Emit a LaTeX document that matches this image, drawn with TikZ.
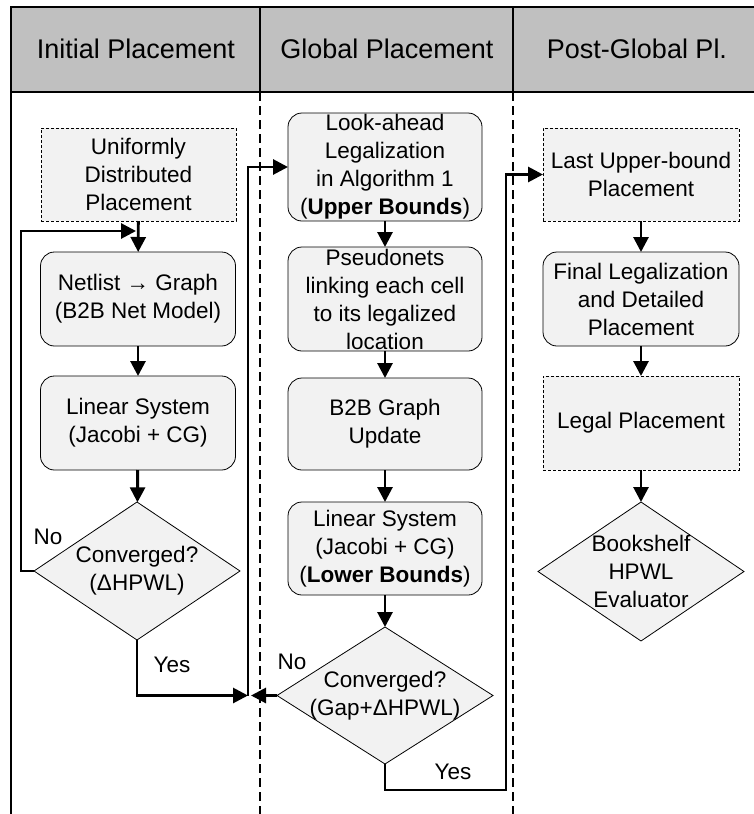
\documentclass[tikz,border=0pt]{standalone}
\usepackage{fontspec}
\setmainfont{Liberation Sans}
\usetikzlibrary{shapes.geometric,arrows.meta}
\definecolor{hdr}{HTML}{C0C0C0}
\definecolor{bx}{HTML}{F2F2F2}
\newcommand{\zw}[1]{\makebox[0pt]{\parbox{240pt}{\centering #1}}}
\begin{document}
\begin{tikzpicture}[x=1pt,y=-1pt,
  base/.style={font=\fontsize{22.5pt}{28pt}\selectfont, align=center, inner sep=0pt, outer sep=0pt, fill=bx, draw=black, line width=0.8pt},
  rbox/.style={base, rectangle, rounded corners=14pt, minimum width=195pt},
  dbox/.style={base, rectangle, dash pattern=on 3pt off 2pt, minimum width=195pt},
  dec/.style={base, diamond, minimum width=206pt, minimum height=138pt},
  flow/.style={line width=2.9pt, -{Triangle[length=15pt,width=15pt]}},
  lbl/.style={font=\fontsize{22.5pt}{28pt}\selectfont, inner sep=0pt},
  hdrtxt/.style={font=\fontsize{27pt}{32pt}\selectfont, inner sep=0pt, anchor=base},
  lane/.style={line width=1.4pt, dash pattern=on 9pt off 5pt},
]
\useasboundingbox (0,0) rectangle (754,814);
% header
\fill[hdr] (11,7) rectangle (754,92);
\draw[line width=2.5pt] (754,7) -- (11,7) -- (11,814);
\draw[line width=2pt] (11,92) -- (754,92);
\draw[line width=1.4pt] (260,7) -- (260,92);
\draw[line width=1.4pt] (513,7) -- (513,92);
\draw[lane] (260,92) -- (260,814);
\draw[lane] (513,92) -- (513,814);
\node[hdrtxt] (h1) at (136,58) {Initial Placement};
\node[hdrtxt] (h2) at (387,58) {Global Placement};
\node[hdrtxt] (h3) at (637,58) {Post-Global Pl.};
% left column
\node[dbox, minimum height=93pt] (u1) at (138.5,174.5) {Uniformly\\Distributed\\Placement};
\node[rbox, minimum height=94pt] (n1) at (138,299) {Netlist → Graph\\(B2B Net Model)};
\node[rbox, minimum height=94pt] (l1) at (138,423) {Linear System\\(Jacobi + CG)};
\node[dec] (d1) at (137,571) {\zw{Converged?\\(ΔHPWL)}};
% middle column
\node[rbox, minimum width=194pt, minimum height=108pt] (la) at (385,167) {Look-ahead\\Legalization\\in Algorithm 1\\(\textbf{Upper Bounds})};
\node[rbox, minimum width=194pt, minimum height=104pt] (ps) at (385,299) {Pseudonets\\linking each cell\\to its legalized\\location};
\node[rbox, minimum width=194pt, minimum height=92pt] (bg) at (385,424) {B2B Graph\\Update};
\node[rbox, minimum width=194pt, minimum height=93pt] (l2) at (385,548.5) {Linear System\\(Jacobi + CG)\\(\textbf{Lower Bounds})};
\node[dec, minimum width=216pt, minimum height=137pt] (d2) at (385,695.5) {\zw{Converged?\\(Gap+ΔHPWL)}};
% right column
\node[dbox, minimum width=196pt, minimum height=93pt] (lu) at (641,174.5) {Last Upper-bound\\Placement};
\node[rbox, minimum width=196pt, minimum height=94pt] (fl) at (641,299) {Final Legalization\\and Detailed\\Placement};
\node[dbox, minimum width=196pt, minimum height=94pt] (lp) at (641,423) {Legal Placement};
\node[dec, minimum width=206pt, minimum height=139pt] (d3) at (641,571.5) {\zw{Bookshelf\\HPWL\\Evaluator}};
% coordinates
\coordinate (lp1) at (136,231);
\coordinate (j1) at (248,695.5);
\coordinate (j2) at (251,695.5);
% left flow
\draw[flow] (u1) -- (n1);
\draw[flow] (n1) -- (l1);
\draw[flow] (l1) -- (d1);
\draw[flow] (d1.west) -- (21,571) -- (21,231) -- (lp1);
\draw[flow] (d1.south) |- (j1);
\draw[flow] (j1) |- (la.west);
% middle flow
\draw[flow] (la) -- (ps);
\draw[flow] (ps) -- (bg);
\draw[flow] (bg) -- (l2);
\draw[flow] (l2) -- (d2);
\draw[flow] (d2.west) -- (j2);
\draw[flow] (d2.south) -- (385,790) -- (506,790) |- (lu.west);
% right flow
\draw[flow] (lu) -- (fl);
\draw[flow] (fl) -- (lp);
\draw[flow] (lp) -- (d3);
% labels
\node[lbl] (no1) at (48,537) {No};
\node[lbl] (yes1) at (172,665) {Yes};
\node[lbl] (no2) at (292,662) {No};
\node[lbl] (yes2) at (453,772) {Yes};
\end{tikzpicture}
\end{document}
